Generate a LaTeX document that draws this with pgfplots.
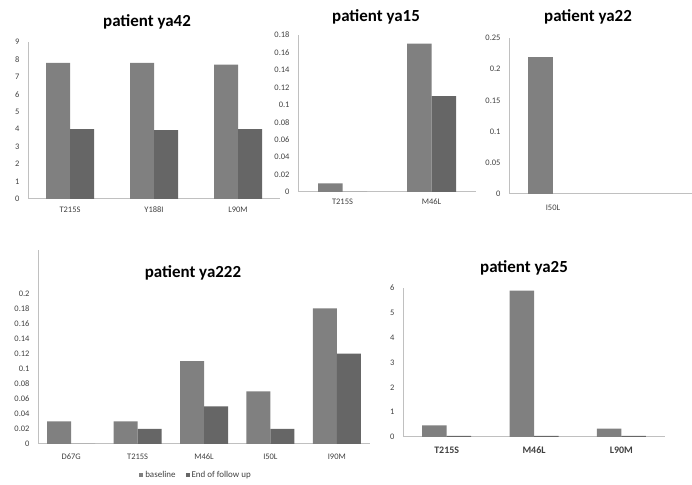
\documentclass[border=0pt]{standalone}
\usepackage{fontspec}
\setmainfont{Carlito}
\usepackage{pgfplots}
\pgfplotsset{compat=1.18}

\definecolor{base}{HTML}{808080}
\definecolor{foll}{HTML}{666666}
\definecolor{axl}{HTML}{C0C0C0}
\definecolor{lab}{HTML}{404040}

\pgfplotsset{
  panel/.style={
    scale only axis, anchor=south west,
    ybar=0pt, ymin=0,
    axis x line*=bottom, axis y line*=left,
    axis line style={axl, line width=1bp},
    every outer x axis line/.append style={-},
    every outer y axis line/.append style={-},
    major tick length=0pt,
    xtick=data,
    tick label style={font=\fontsize{8.5}{10}\selectfont, text=lab},
    /pgf/number format/assume math mode=true,
    scaled y ticks=false,
    yticklabel style={/pgf/number format/fixed, /pgf/number format/precision=2, xshift=-5bp},
    clip=false,
  },
  bl/.style={fill=base, draw=none},
  fu/.style={fill=foll, draw=none},
}

\newcommand{\ttl}[1]{\fontsize{17}{20}\selectfont\bfseries #1}

\begin{document}
\begin{tikzpicture}[x=1bp, y=1bp]
\useasboundingbox (0,0) rectangle (692,485);

% patient ya42
\begin{axis}[panel, at={(28bp,286bp)}, width=252bp, height=157bp,
  bar width=24bp, xmin=-0.5, xmax=2.5, ymax=9, ytick={0,1,...,9},
  xticklabels={T215S, Y188I, L90M}, xticklabel style={yshift=-4bp}]
\addplot[bl] coordinates {(0,7.8) (1,7.8) (2,7.7)};
\addplot[fu] coordinates {(0,4.0) (1,3.95) (2,4.0)};
\end{axis}
\node at (147,463) {\ttl{patient ya42}};

% patient ya15
\begin{axis}[panel, at={(298bp,293bp)}, width=178bp, height=157bp,
  bar width=24.5bp, xmin=-0.5, xmax=1.5, ymax=0.18, ytick={0,0.02,...,0.18},
  xticklabels={T215S, M46L}, xticklabel style={yshift=-3bp}]
\addplot[bl] coordinates {(0,0.01) (1,0.17)};
\addplot[fu] coordinates {(0,0) (1,0.11)};
\end{axis}
\node at (376,468) {\ttl{patient ya15}};

% patient ya22 (follow-up value is 0)
\begin{axis}[panel, at={(509bp,291bp)}, width=183bp, height=156bp,
  bar width=25bp, xmin=-0.5, xmax=1.58, ymax=0.25, ytick={0,0.05,...,0.25},
  xticklabels={I50L}, xticklabel style={yshift=-7bp}]
\addplot[bl, bar shift=-12.5bp] coordinates {(0,0.22)};
\end{axis}
\node at (588,468) {\ttl{patient ya22}};

% patient ya222
\begin{axis}[panel, at={(38bp,41bp)}, width=332bp, height=194bp,
  bar width=24bp, xmin=-0.5, xmax=4.5, ymax=0.2575, ytick={0,0.02,...,0.2},
  xticklabels={D67G, T215S, M46L, I50L, I90M}, xticklabel style={yshift=-6bp},
  legend columns=2,
  legend style={at={(0.476,-0.16)}, anchor=center, draw=none, fill=none,
    font=\fontsize{9}{11}\selectfont, text=lab,
    /tikz/every even column/.append style={column sep=8bp}},
  legend image code/.code={\fill[#1] (0bp,-2bp) rectangle (4bp,2bp);}]
\addplot[bl] coordinates {(0,0.03) (1,0.03) (2,0.11) (3,0.07) (4,0.18)};
\addplot[fu] coordinates {(0,0) (1,0.02) (2,0.05) (3,0.02) (4,0.12)};
\legend{baseline, End of follow up}
\end{axis}
\node at (193,212) {\ttl{patient ya222}};

% patient ya25
\begin{axis}[panel, at={(403bp,48bp)}, width=262bp, height=149bp,
  bar width=24.5bp, xmin=-0.5, xmax=2.5, ymax=6, ytick={0,1,...,6},
  xticklabels={T215S, M46L, L90M},
  xticklabel style={font=\fontsize{10}{12}\selectfont\bfseries, text=lab, yshift=-6bp}]
\addplot[bl] coordinates {(0,0.47) (1,5.89) (2,0.34)};
\addplot[fu] coordinates {(0,0.05) (1,0.05) (2,0.05)};
\end{axis}
\node at (524,217) {\ttl{patient ya25}};
\end{tikzpicture}
\end{document}
